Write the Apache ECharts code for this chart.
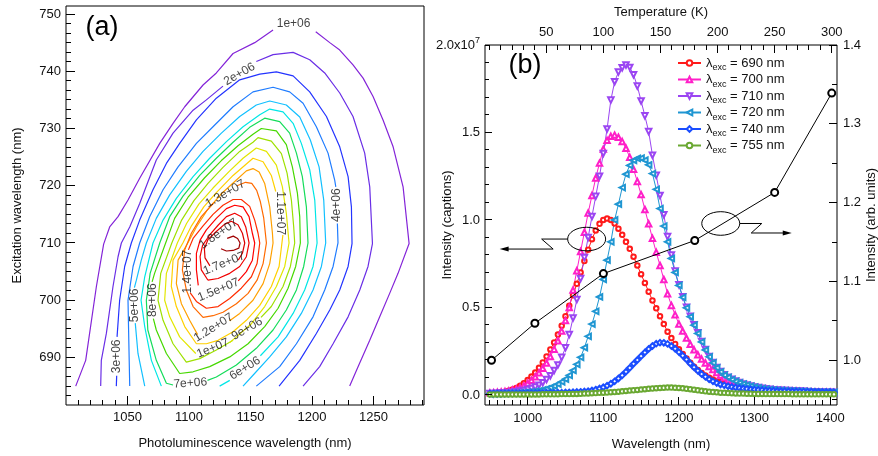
<!DOCTYPE html>
<html>
<head>
<meta charset="utf-8">
<script src="https://cdn.jsdelivr.net/npm/echarts@6/dist/echarts.min.js"></script>
<style>
html,body{margin:0;padding:0;background:#fff}
#chart{width:878px;height:456px}
</style>
</head>
<body>
<div id="chart"></div>
<script>
// ---------- panel (a): PLE contour map, one polyline per level (null = label gap) ----------
const c1e6 = [[1007.9,685.0],[1016.0,689.5],[1024.7,702.4],[1030.6,709.8],[1035.5,712.8],[1042.3,714.6],[1050.4,717.5],[1059.9,721.3],[1076.2,727.4],[1087.0,730.9],[1096.5,733.8],[1111.4,737.6],[1122.2,739.7],[1135.8,743.1],[1153.4,745.0],[1168.3,747.2],null,[1203.0,746.9],[1214.4,745.0],[1222.5,743.7],[1233.3,741.1],[1241.5,738.8],[1249.6,735.6],[1257.7,731.5],[1265.9,726.8],[1274.0,719.8],[1278.9,709.9],[1269.9,704.7],[1263.1,701.2],[1255.0,697.1],[1246.9,693.0],[1237.4,688.4],[1230.6,685.0]];
const c2e6 = [[1028.2,685.0],[1028.7,689.5],[1032.8,694.2],[1038.2,702.4],[1042.3,707.6],[1045.0,710.0],[1051.8,712.8],[1059.9,716.9],[1073.4,724.5],[1087.0,729.2],[1103.3,733.2],[1114.1,735.0],[1127.6,737.4],null,[1154.7,741.7],[1168.3,742.9],[1184.6,743.3],[1198.1,742.0],[1210.3,739.7],[1222.5,736.2],[1233.3,732.1],[1242.8,725.7],[1246.9,719.8],[1249.1,709.9],[1245.5,705.9],[1238.8,701.8],[1229.3,697.1],[1217.1,692.4],[1206.2,688.4],[1192.7,685.0]];
const c3e6 = [[1040.9,685.0],[1041.2,686.8],null,[1041.5,693.6],[1043.6,700.0],[1047.7,705.9],[1053.1,710.0],[1059.9,714.0],[1070.7,719.3],[1081.6,723.9],[1092.4,727.4],[1106.0,731.5],[1122.2,735.3],[1141.2,738.5],[1157.5,739.5],[1171.0,739.9],[1184.6,739.2],[1198.1,736.4],[1211.7,732.1],[1222.5,726.8],[1229.3,721.6],[1232.0,716.3],[1232.5,709.9],[1229.3,705.9],[1222.5,701.8],[1214.4,698.3],[1203.5,694.2],[1190.0,689.5],[1173.2,685.0]];
const c4e6 = [[1051.8,685.0],[1051.2,691.3],[1050.4,700.0],[1054.5,705.9],[1059.9,710.0],[1068.0,714.6],[1078.9,719.3],[1091.1,723.3],[1106.0,727.4],[1119.5,730.3],[1135.8,733.8],[1152.0,736.4],[1168.3,737.2],[1181.8,736.4],[1192.7,734.4],[1203.5,730.3],[1213.0,725.7],[1218.4,721.0],[1219.3,719.8],null,[1220.6,713.4],[1221.1,710.0],[1217.1,705.9],[1210.3,701.8],[1200.8,697.1],[1187.3,692.4],[1173.7,688.4],[1154.7,685.0]];
const c5e6 = [[1064.0,685.0],[1058.5,690.7],[1056.3,696.0],null,[1055.6,702.2],[1057.2,703.5],[1061.2,707.0],[1065.3,710.0],[1073.4,714.3],[1084.3,718.4],[1097.8,722.5],[1111.4,726.0],[1126.3,729.2],[1141.2,732.1],[1154.7,734.1],[1165.6,734.8],[1179.1,734.1],[1190.0,732.0],[1198.6,728.0],[1205.7,723.3],[1209.5,717.5],[1211.1,710.0],[1207.6,705.9],[1200.8,701.8],[1191.3,697.7],[1179.1,693.6],[1165.6,690.1],[1152.0,686.9],[1143.9,685.0]];
const c6e6 = [[1077.5,685.0],[1069.4,689.5],[1064.0,695.4],[1061.0,700.0],[1064.0,704.1],[1070.7,710.0],[1078.9,714.0],[1089.7,717.8],[1103.3,721.6],[1116.8,724.8],[1130.4,727.7],[1143.9,730.3],[1157.5,732.4],[1165.6,733.4],[1176.4,732.9],[1184.6,730.9],[1191.3,727.4],[1198.1,722.8],[1202.2,717.5],[1204.1,710.0],[1200.8,705.9],[1194.0,701.8],[1184.6,697.7],[1172.4,693.6],[1158.0,690.3],null,[1133.1,686.0],[1124.9,685.0]];
const c7e6 = [[1087.0,685.2],[1081.6,685.5],[1073.4,689.5],[1066.5,694.8],[1065.3,700.0],[1068.4,704.7],[1076.2,710.0],[1084.3,714.6],[1095.1,718.2],[1108.7,721.8],[1122.2,724.8],[1135.8,727.6],[1149.3,730.2],[1161.5,731.8],[1173.7,731.2],[1181.8,729.2],[1187.3,725.7],[1192.1,721.6],[1195.4,716.3],[1196.7,710.0],[1193.2,705.9],[1187.3,701.8],[1179.1,698.3],[1168.3,694.8],[1154.7,691.6],[1138.5,688.7],[1122.2,686.6],[1115.0,686.0]];
const c8e6 = [[1070.0,703.2],[1072.0,704.7],[1081.0,710.0],[1088.3,714.3],[1099.2,718.0],[1112.7,721.4],[1126.3,724.4],[1139.8,727.0],[1152.0,729.0],[1158.8,730.0],[1171.0,729.6],[1179.1,727.2],[1184.0,723.3],[1188.1,718.7],[1190.0,714.6],[1190.5,710.0],[1186.7,705.9],[1180.5,702.1],[1172.4,698.6],[1161.5,695.4],[1148.0,692.4],[1133.1,690.1],[1116.8,688.4],[1103.3,687.5],[1092.4,687.2],[1081.6,690.7],[1073.4,694.8],[1071.0,696.8]];
const c9e6 = [[1135.8,693.0],[1122.2,691.3],[1108.7,689.8],[1097.8,689.2],[1087.0,692.4],[1078.9,696.5],[1074.8,700.0],[1077.0,704.7],[1086.0,710.0],[1094.0,714.0],[1104.0,717.4],[1115.4,720.4],[1127.6,723.2],[1141.2,726.0],[1152.0,727.6],[1156.1,728.4],[1166.9,727.8],[1175.1,725.6],[1179.7,722.2],[1183.2,717.5],[1185.1,712.8],[1185.9,710.0],[1182.4,705.9],[1176.4,702.4],[1166.9,698.9],[1158.5,697.0]];
const c1e7 = [[1105.5,690.7],[1092.4,693.6],[1084.3,697.1],[1080.2,700.0],[1081.6,704.7],[1090.5,710.0],[1098.0,713.4],[1108.0,716.8],[1119.5,719.6],[1133.1,722.6],[1143.9,724.8],[1154.7,726.6],[1162.9,726.0],[1171.0,723.6],[1175.9,719.8],[1179.1,715.2],[1181.3,710.0],[1177.8,705.9],[1171.0,702.4],[1161.5,698.9],[1150.7,695.9],[1138.5,693.6],[1133.0,692.6]];
const c11e6 = [[1176.3,711.4],[1173.2,705.9],[1166.9,702.4],[1157.5,699.1],[1146.6,696.5],[1135.8,694.5],[1123.6,693.0],[1114.1,692.4],[1106.0,692.4],[1096.5,695.4],[1089.7,698.9],[1085.6,702.4],[1087.0,707.0],[1095.0,710.0],[1102.0,713.0],[1112.0,716.3],[1122.2,718.8],[1135.8,721.8],[1146.6,723.8],[1152.0,724.8],[1160.2,724.2],[1166.9,721.8],[1170.5,719.0]];
const c12e6 = [[1107.0,694.0],[1100.5,696.5],[1093.8,699.4],[1089.7,702.9],[1091.1,707.0],[1099.0,710.0],[1106.0,712.8],[1115.0,715.8],[1126.3,718.6],[1138.5,721.0],[1146.6,722.6],[1152.0,723.0],[1157.0,722.4],[1161.5,720.4],[1165.6,716.3],[1167.8,711.7],[1168.3,710.0],[1165.6,706.4],[1160.2,702.9],[1152.0,700.0],[1141.2,697.7],[1133.0,696.4]];
const c13e6 = [[1139.0,720.0],[1146.0,720.6],[1151.0,720.4],[1155.0,719.2],[1158.0,717.2],[1160.7,714.4],[1162.9,710.0],[1160.2,706.4],[1155.3,703.5],[1148.0,701.2],[1138.5,699.4],[1127.6,697.9],[1119.5,697.3],[1111.4,697.0],[1103.3,698.9],[1097.8,701.8],[1094.6,705.3],[1096.5,708.8],[1101.9,711.7],[1110.0,714.6],[1120.0,717.0]];
const c14e6 = [[1099.5,708.8],[1103.3,710.8],[1111.4,713.0],[1119.5,715.0],[1127.6,716.6],[1135.8,717.6],[1142.5,717.6],[1149.3,716.4],[1153.4,714.0],[1156.1,711.7],[1157.5,710.0],[1155.3,706.4],[1150.7,704.1],[1142.5,702.1],[1133.1,700.3],[1123.6,698.9],[1114.1,698.6],[1106.0,699.8],[1101.0,701.3]];
const c15e6 = [[1107.5,702.6],[1106.0,705.3],[1106.0,708.2],[1109.0,710.5],[1114.1,712.3],[1122.2,714.3],[1130.4,716.0],[1137.1,716.6],[1143.9,716.3],[1148.8,714.6],[1151.5,711.7],[1153.4,710.0],[1151.5,707.0],[1146.6,705.0],[1140.0,703.4]];
const c16e6 = [[1115.4,703.5],[1110.0,705.3],[1109.0,707.6],[1111.0,709.6],[1116.8,711.4],[1123.6,713.1],[1130.4,714.6],[1137.1,715.2],[1142.5,714.6],[1146.1,712.8],[1148.8,710.0],[1146.6,707.6],[1141.2,705.9],[1133.1,704.7],[1123.6,703.8],[1115.4,703.5]];
const c17e6 = [[1140.0,707.0],[1143.4,708.2],[1145.3,710.0],[1143.4,711.7],[1139.8,713.2],[1134.4,713.8],[1129.0,713.3],[1122.2,712.0],[1115.4,710.6],[1112.5,709.0],[1113.0,707.4],[1117.0,706.0]];
const c18e6 = [[1131.0,710.8],[1136.0,711.2],[1139.5,710.8],[1141.5,710.0],[1140.5,709.1],[1135.8,708.7],[1130.4,708.6],[1126.0,709.0]];

const contourLines = [c1e6,c2e6,c3e6,c4e6,c5e6,c6e6,c7e6,c8e6,c9e6,c1e7,c11e6,c12e6,c13e6,c14e6,c15e6,c16e6,c17e6,c18e6];
const contourColors = ['#8424d8','#6a2ee6','#2434ff','#1f7cff','#12c0ff','#00e6e6','#14dc5a','#46d800',
  '#9ee000','#e2e600','#ffd000','#ffa000','#ff6a00','#ff2c00','#ff0000','#f00000','#dc0000','#a00000'];

// label anchor [PL nm, excitation nm, text, rotation]
const contourLabels = [
  [1185.0,748.3,'1e+06',0],[1141.0,739.5,'2e+06',30],[1041.2,690.2,'3e+06',90],[1220.0,716.6,'4e+06',90],
  [1055.9,699.1,'5e+06',90],[1145.5,688.1,'6e+06',32],[1101.0,685.5,'7e+06',4],[1070.5,700.0,'8e+06',90],
  [1147.2,695.0,'9e+06',30],[1119.3,691.6,'1e+07',22],[1174.0,715.2,'1.1e+07',-90],[1120.0,695.2,'1.2e+07',32],
  [1129.5,718.6,'1.3e+07',30],[1099.0,705.0,'1.4e+07',90],[1124.0,701.8,'1.5e+07',22],[1128.5,706.4,'1.7e+07',22],
  [1124.0,711.6,'1.8e+07',35]
];

// ---------- panel (b): PL spectra (intensity in units of 1e7 counts) ----------
const wavelength = [950,955,960,965,970,975,980,985,990,995,1000,1005,1010,1015,1020,1025,1030,1035,1040,1045,
  1050,1055,1060,1065,1070,1075,1080,1085,1090,1095,1100,1105,1110,1115,1120,1125,1130,1135,1140,1145,
  1150,1155,1160,1165,1170,1175,1180,1185,1190,1195,1200,1205,1210,1215,1220,1225,1230,1235,1240,1245,
  1250,1255,1260,1265,1270,1275,1280,1285,1290,1295,1300,1305,1310,1315,1320,1325,1330,1335,1340,1345,
  1350,1355,1360,1365,1370,1375,1380,1385,1390,1395,1400,1405];

const exc690 = [.010,.011,.013,.015,.019,.024,.031,.040,.052,.067,
  .085,.105,.128,.155,.186,.220,.260,.300,.345,.395,
  .450,.510,.570,.635,.700,.765,.830,.890,.940,.978,
  1.000,1.008,1.000,.980,.950,.915,.875,.835,.790,.740,
  .690,.640,.590,.540,.495,.450,.405,.362,.325,.292,
  .262,.234,.208,.184,.162,.143,.126,.111,.098,.088,
  .080,.072,.064,.057,.051,.046,.042,.038,.035,.032,
  .030,.028,.026,.025,.024,.023,.022,.021,.020,.020,
  .019,.019,.018,.018,.017,.017,.016,.016,.016,.015,
  .015,.015];
const exc700 = [.012,.013,.015,.017,.020,.023,.028,.034,.042,.053,
  .067,.084,.104,.127,.153,.183,.220,.262,.310,.365,
  .425,.500,.600,.710,.820,.930,1.040,1.140,1.240,1.325,
  1.405,1.455,1.478,1.485,1.473,1.448,1.410,1.358,1.290,1.220,
  1.145,1.060,.978,.895,.815,.740,.660,.578,.512,.458,
  .405,.365,.325,.290,.258,.230,.205,.183,.163,.145,
  .128,.113,.100,.089,.080,.072,.064,.057,.051,.046,
  .042,.038,.035,.032,.030,.028,.026,.025,.024,.023,
  .022,.021,.020,.019,.018,.017,.016,.016,.015,.015,
  .015,.014];
const exc710 = [.008,.009,.010,.011,.012,.014,.016,.019,.022,.026,
  .031,.037,.045,.056,.070,.088,.110,.140,.172,.215,
  .270,.345,.440,.545,.665,.785,.900,1.020,1.135,1.250,
  1.380,1.520,1.685,1.790,1.845,1.870,1.885,1.872,1.830,1.765,
  1.680,1.595,1.505,1.370,1.255,1.140,1.030,.905,.800,.708,
  .630,.562,.502,.450,.402,.355,.306,.260,.220,.186,
  .157,.134,.116,.101,.090,.080,.071,.063,.057,.051,
  .046,.042,.038,.035,.032,.030,.028,.027,.026,.025,
  .024,.023,.022,.021,.020,.019,.018,.017,.017,.016,
  .016,.015];
const exc720 = [.005,.006,.006,.007,.008,.009,.010,.011,.012,.014,
  .016,.018,.021,.024,.029,.035,.042,.051,.062,.075,
  .090,.112,.140,.175,.215,.270,.335,.405,.478,.560,
  .660,.770,.875,1.000,1.090,1.185,1.262,1.312,1.340,1.352,
  1.353,1.342,1.315,1.265,1.175,1.065,.965,.875,.780,.700,
  .626,.558,.498,.447,.399,.352,.303,.257,.218,.184,
  .155,.132,.114,.100,.088,.078,.069,.062,.056,.050,
  .045,.041,.037,.034,.031,.029,.027,.026,.025,.024,
  .023,.022,.021,.020,.019,.018,.017,.017,.016,.016,
  .015,.015];
const exc740 = [.008,.008,.008,.008,.009,.009,.009,.009,.010,.010,
  .010,.010,.011,.011,.011,.012,.012,.012,.013,.013,
  .014,.015,.016,.017,.018,.020,.022,.026,.031,.037,
  .044,.053,.064,.078,.094,.112,.133,.155,.178,.200,
  .222,.243,.263,.280,.293,.299,.298,.292,.280,.264,
  .245,.225,.203,.180,.158,.138,.120,.104,.090,.078,
  .068,.060,.055,.050,.046,.043,.040,.037,.035,.033,
  .031,.029,.028,.026,.025,.024,.023,.022,.022,.021,
  .020,.020,.019,.019,.018,.018,.017,.017,.016,.016,
  .016,.015];
const exc755 = [.003,.003,.003,.003,.003,.003,.003,.003,.003,.003,
  .003,.003,.003,.003,.004,.004,.004,.004,.004,.005,
  .005,.005,.006,.006,.007,.008,.009,.010,.011,.012,
  .013,.014,.016,.017,.019,.021,.023,.025,.027,.029,
  .031,.033,.035,.037,.039,.040,.041,.042,.042,.041,
  .040,.038,.035,.033,.030,.027,.024,.021,.019,.017,
  .015,.013,.012,.011,.010,.009,.008,.008,.007,.007,
  .006,.006,.006,.005,.005,.005,.005,.005,.005,.005,
  .004,.004,.004,.004,.004,.004,.004,.004,.004,.004,
  .004,.004];

// integrated intensity vs temperature (right / top axes)
const temperature = [2, 40, 100, 180, 250, 300];
const relIntensity = [1.000, 1.047, 1.110, 1.152, 1.213, 1.339];

const spectra = [
  {name:'690', values: exc690, color:'#ff1a1a', symbol:'emptyCircle', size:4.5, rot:0},
  {name:'700', values: exc700, color:'#ff1fc8', symbol:'emptyTriangle', size:5.5, rot:0},
  {name:'710', values: exc710, color:'#9b45f2', symbol:'emptyTriangle', size:5.5, rot:180},
  {name:'720', values: exc720, color:'#1f96d2', symbol:'emptyTriangle', size:5.5, rot:90},
  {name:'740', values: exc740, color:'#1a4dff', symbol:'emptyDiamond', size:5.5, rot:0},
  {name:'755', values: exc755, color:'#6aa832', symbol:'emptyCircle', size:4.5, rot:0}
];

// ---------- tick positions ----------
const aXMajor = [1050, 1100, 1150, 1200, 1250];
const aYMajor = [690, 700, 710, 720, 730, 740, 750];
const bXMajor = [1000, 1100, 1200, 1300, 1400];
const bTMajor = [50, 100, 150, 200, 250, 300];
const bLMajor = [0, 0.5, 1.0, 1.5, 2.0];
const bRMajor = [1.0, 1.1, 1.2, 1.3, 1.4];

// ---------- helpers ----------
const FONT = 'Liberation Sans, Arial, Helvetica, sans-serif';
function range(a, b, step) { const out = []; for (let v = a; v <= b + 1e-9; v += step) out.push(+v.toFixed(6)); return out; }
function splitSegments(line) {
  const segs = []; let cur = [];
  line.forEach(p => { if (p === null) { if (cur.length) segs.push(cur); cur = []; } else cur.push(p); });
  if (cur.length) segs.push(cur);
  return segs;
}
const labelStyle = {fontSize: 13, color: '#111', fontFamily: FONT};
const nameStyle = {fontSize: 13, color: '#111', fontFamily: FONT};
const plain = v => String(+v.toFixed(3));
function axis(extra) {
  return Object.assign({
    type: 'value', splitLine: {show: false}, nameMoveOverlap: false,
    axisLine: {show: false, onZero: false}, axisTick: {show: false}
  }, extra);
}

// axis ranges (frame edges)
const aX = [1000, 1291], aY = [681.7, 751.4];
const bX = [943.6, 1409.0], bT = [-3.7, 304.6], bL = [-0.0573, 2.0], bR = [0.9433, 1.4];
// plot frames in pixels
const boxA = {left: 66, top: 6, right: 424, bottom: 405};
const boxB = {left: 485, top: 45, right: 837, bottom: 405};

const chart = echarts.init(document.getElementById('chart'), null, {renderer: 'canvas'});

const xAxes = [
  axis({gridIndex: 0, min: aX[0], max: aX[1], position: 'bottom',
    axisLabel: {show: true, customValues: aXMajor, margin: 6, formatter: plain, ...labelStyle},
    name: 'Photoluminescence wavelength (nm)', nameLocation: 'middle', nameGap: 32, nameTextStyle: nameStyle}),
  axis({gridIndex: 1, min: bX[0], max: bX[1], position: 'bottom',
    axisLabel: {show: true, customValues: bXMajor, margin: 7, formatter: plain, ...labelStyle},
    name: 'Wavelength (nm)', nameLocation: 'middle', nameGap: 33, nameTextStyle: nameStyle}),
  axis({gridIndex: 1, min: bT[0], max: bT[1], position: 'top',
    axisLabel: {show: true, customValues: bTMajor, margin: 6, formatter: plain, ...labelStyle},
    name: 'Temperature (K)', nameLocation: 'middle', nameGap: 26, nameTextStyle: nameStyle})
];

const yAxes = [
  axis({gridIndex: 0, min: aY[0], max: aY[1], position: 'left',
    axisLabel: {show: true, customValues: aYMajor, margin: 5, formatter: plain, ...labelStyle},
    name: 'Excitation wavelength (nm)', nameLocation: 'middle', nameRotate: 90, nameGap: 42, nameTextStyle: nameStyle}),
  axis({gridIndex: 1, min: bL[0], max: bL[1], position: 'left',
    axisLabel: {show: true, customValues: bLMajor, margin: 5, ...labelStyle,
      formatter: v => v >= 1.99 ? '{m|2.0x10}{p|7}' : v.toFixed(1),
      rich: {m: {fontSize: 13, fontFamily: FONT, color: '#111'}, p: {fontSize: 9, fontFamily: FONT, color: '#111', verticalAlign: 'top', padding: [0, 0, 8, 0]}}},
    name: 'Intensity (captions)', nameLocation: 'middle', nameRotate: 90, nameGap: 31, nameTextStyle: nameStyle}),
  axis({gridIndex: 1, min: bR[0], max: bR[1], position: 'right',
    axisLabel: {show: true, customValues: bRMajor, margin: 6, ...labelStyle, formatter: v => v.toFixed(1)},
    name: 'Intensity (arb. units)', nameLocation: 'middle', nameRotate: 90, nameGap: 28, nameTextStyle: nameStyle})
];

const series = [];
contourLines.forEach((line, i) => {
  splitSegments(line).forEach(seg => {
    series.push({type: 'line', xAxisIndex: 0, yAxisIndex: 0, data: seg, symbol: 'none', silent: true,
      lineStyle: {color: contourColors[i], width: 1.2}, z: 3, animation: false});
  });
});
series.push({
  type: 'scatter', xAxisIndex: 0, yAxisIndex: 0, symbolSize: 0, silent: true, z: 5, animation: false,
  data: contourLabels.map(l => ({value: [l[0], l[1]],
    label: {show: true, position: 'inside', formatter: l[2], rotate: l[3], fontSize: 12, color: '#111', fontFamily: FONT}}))
});
spectra.forEach(s => {
  series.push({
    type: 'line', name: s.name, xAxisIndex: 1, yAxisIndex: 1,
    data: wavelength.map((w, i) => [w, s.values[i]]),
    symbol: s.symbol, symbolSize: s.size, symbolRotate: s.rot, showAllSymbol: true,
    lineStyle: {color: s.color, width: 1}, itemStyle: {color: s.color, borderColor: s.color, borderWidth: 1},
    z: 3, animation: false
  });
});
series.push({
  type: 'line', name: 'temperature', xAxisIndex: 2, yAxisIndex: 2,
  data: temperature.map((t, i) => [t, relIntensity[i]]),
  symbol: 'emptyCircle', symbolSize: 7, lineStyle: {color: '#000', width: 1},
  itemStyle: {color: '#000', borderColor: '#000', borderWidth: 1}, z: 6, animation: false
});

const gridOf = b => ({left: b.left, top: b.top, width: b.right - b.left, height: b.bottom - b.top,
  show: true, borderColor: '#000', borderWidth: 1, backgroundColor: 'transparent', containLabel: false, outerBoundsMode: 'none'});

chart.setOption({
  animation: false,
  backgroundColor: '#fff',
  textStyle: {fontFamily: FONT},
  grid: [gridOf(boxA), gridOf(boxB)],
  xAxis: xAxes,
  yAxis: yAxes,
  legend: {
    data: ['690', '700', '710', '720', '740', '755'],
    orient: 'vertical', left: 677, top: 56.5, padding: 0, itemWidth: 23, itemHeight: 7, itemGap: 0.5,
    selectedMode: false,
    formatter: n => '{l|λ}{s|exc}{l| = ' + n + ' nm}',
    textStyle: {fontSize: 13, color: '#111', fontFamily: FONT,
      rich: {l: {fontSize: 13, fontFamily: FONT, color: '#111', lineHeight: 16},
             s: {fontSize: 9, fontFamily: FONT, color: '#111', verticalAlign: 'top', padding: [10, 0, 0, 0]}}}
  },
  series: series
});

// ---------- inward tick marks, positioned with the axes' own scales ----------
// each tick is a 1-px filled bar; its value is converted at an interior point of the grid
const toPx = (xIdx, yIdx, x, y) => chart.convertToPixel({xAxisIndex: xIdx, yAxisIndex: yIdx}, [x, y]);
const ok = p => p && isFinite(p[0]) && isFinite(p[1]);
const tickEls = [];
function xTicks(xIdx, yIdx, yMid, values, edgeY, len) {
  values.forEach(v => {
    const p = toPx(xIdx, yIdx, v, yMid);
    if (!ok(p)) return;
    const x = Math.round(p[0] - 0.5);
    const y = len < 0 ? edgeY + len : edgeY;
    tickEls.push({type: 'rect', z: 20, silent: true, shape: {x: x, y: y, width: 1, height: Math.abs(len)}, style: {fill: '#000'}});
  });
}
function yTicks(xIdx, yIdx, xMid, values, edgeX, len) {
  values.forEach(v => {
    const p = toPx(xIdx, yIdx, xMid, v);
    if (!ok(p)) return;
    const y = Math.round(p[1] - 0.5);
    const x = len < 0 ? edgeX + len : edgeX;
    tickEls.push({type: 'rect', z: 20, silent: true, shape: {x: x, y: y, width: Math.abs(len), height: 1}, style: {fill: '#000'}});
  });
}
const aMidX = 1150, aMidY = 715, bMidX = 1200, bMidY = 1.0;
// panel (a)
xTicks(0, 0, aMidY, aXMajor, boxA.bottom, -9);
xTicks(0, 0, aMidY, range(1010, 1290, 10), boxA.bottom, -5);
yTicks(0, 0, aMidX, aYMajor, boxA.left, 9);
yTicks(0, 0, aMidX, range(690 - 40 / 6, 750, 10 / 6), boxA.left, 5);
// panel (b)
xTicks(1, 1, bMidY, bXMajor, boxB.bottom, -8);
xTicks(1, 1, bMidY, range(950, 1400, 10), boxB.bottom, -5);
xTicks(2, 1, bMidY, bTMajor, boxB.top, 8);
xTicks(2, 1, bMidY, range(0, 300, 10), boxB.top, 5);
yTicks(1, 1, bMidX, bLMajor.slice(0, 4), boxB.left, 7);
yTicks(1, 1, bMidX, range(0, 2, 0.1), boxB.left, 4);
yTicks(1, 2, bMidX, bRMajor, boxB.right, -8);
yTicks(1, 2, bMidX, range(0.95, 1.4, 0.05), boxB.right, -5);

// panel tags and the two "which axis" annotations (ellipse + zig-zag arrow)
const e1 = toPx(1, 1, 1078.0, 0.891);
const e2 = toPx(1, 1, 1255.3, 0.980);
const rx = 19, ry = 11.8;
const ink = {stroke: '#000', lineWidth: 1, fill: null};
chart.setOption({
  graphic: [
    {type: 'text', x: 102, y: 28, style: {text: '(a)', fontSize: 27, fontFamily: FONT, fill: '#000', align: 'center', verticalAlign: 'middle'}},
    {type: 'text', x: 525, y: 66, style: {text: '(b)', fontSize: 27, fontFamily: FONT, fill: '#000', align: 'center', verticalAlign: 'middle'}},
    {type: 'ellipse', shape: {cx: e1[0], cy: e1[1], rx: rx, ry: ry}, style: ink, z: 10},
    {type: 'polyline', shape: {points: [[e1[0] - rx, e1[1]], [e1[0] - 45, e1[1]], [e1[0] - 33.5, e1[1] + 10], [e1[0] - 80, e1[1] + 10]]}, style: ink, z: 10},
    {type: 'polygon', shape: {points: [[e1[0] - 87, e1[1] + 10], [e1[0] - 78, e1[1] + 7.5], [e1[0] - 78, e1[1] + 12.5]]}, style: {fill: '#000'}, z: 10},
    {type: 'ellipse', shape: {cx: e2[0], cy: e2[1], rx: rx, ry: ry}, style: ink, z: 10},
    {type: 'polyline', shape: {points: [[e2[0] + rx, e2[1]], [e2[0] + 41, e2[1]], [e2[0] + 30.5, e2[1] + 9.5], [e2[0] + 63, e2[1] + 9.5]]}, style: ink, z: 10},
    {type: 'polygon', shape: {points: [[e2[0] + 71, e2[1] + 9.5], [e2[0] + 62, e2[1] + 7], [e2[0] + 62, e2[1] + 12]]}, style: {fill: '#000'}, z: 10}
  ].concat(tickEls)
});
</script>
</body>
</html>
